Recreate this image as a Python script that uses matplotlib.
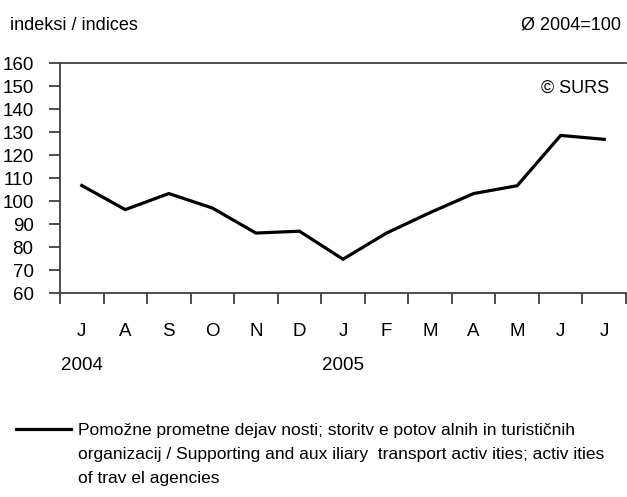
import matplotlib
matplotlib.use("Agg")
import matplotlib.pyplot as plt
import matplotlib.transforms as mtransforms
from matplotlib import font_manager

months = ["J", "A", "S", "O", "N", "D", "J", "F", "M", "A", "M", "J", "J"]
years = ["2004", "2005"]
year_pos = [0, 6]
values = [106.8, 96.3, 103.3, 97.0, 86.1, 86.9, 74.7, 86.1, 95.0, 103.3, 106.7, 128.6, 126.9]
series_label = ("Pomožne prometne dejav nosti; storitv e potov alnih in turističnih\n"
                "organizacij / Supporting and aux iliary  transport activ ities; activ ities\n"
                "of trav el agencies")

avail = {f.name for f in font_manager.fontManager.ttflist}
fam = [f for f in ["Liberation Sans Narrow", "Liberation Sans", "DejaVu Sans"] if f in avail]
plt.rcParams['font.family'] = fam

W, H = 627, 497
fig = plt.figure(figsize=(W / 100, H / 100), dpi=100)
ax = fig.add_axes([60 / W, 1 - 293 / H, 566 / W, (293 - 63.3) / H])

xs = [i + 0.5 for i in range(len(values))]
ax.plot(xs, values, color="black", lw=2.3, solid_joinstyle="miter")

ax.set_xlim(0, len(values))
ax.set_ylim(60, 160)
ax.set_yticks(range(60, 161, 10))
ax.set_xticks(range(0, len(values) + 1))
ax.set_xticklabels([])
spc = "#404040"
ax.spines["right"].set_visible(False)
for s in ["left", "top", "bottom"]:
    ax.spines[s].set_color(spc)
    ax.spines[s].set_linewidth(1.3)
ax.tick_params(axis="both", direction="out", length=8, width=1.3, color=spc,
               labelsize=13.5, labelcolor="black")
ax.tick_params(axis="y", pad=11)

bt = mtransforms.blended_transform_factory(ax.transData, fig.transFigure)
for i, m in enumerate(months):
    ax.text(i + 0.5, 1 - 331 / H, m, transform=bt, ha="center", va="center", fontsize=13.5)
for p, y in zip(year_pos, years):
    ax.text(p + 0.5, 1 - 365 / H, y, transform=bt, ha="center", va="center", fontsize=13.5)

fig.text(10 / W, 1 - 25 / H, "indeksi / indices", ha="left", va="center", fontsize=13)
fig.text(621 / W, 1 - 25 / H, "Ø 2004=100", ha="right", va="center", fontsize=13)
fig.text(609 / W, 1 - 88 / H, "© SURS", ha="right", va="center", fontsize=13)

# legend
fig.add_artist(plt.Line2D([16 / W, 71 / W], [1 - 429 / H, 1 - 429 / H], color="black", lw=2.3))
fig.text(78 / W, 1 - 422.5 / H, series_label, ha="left", va="top", fontsize=12.5, linespacing=1.78)

fig.savefig("out.png", dpi=100)
